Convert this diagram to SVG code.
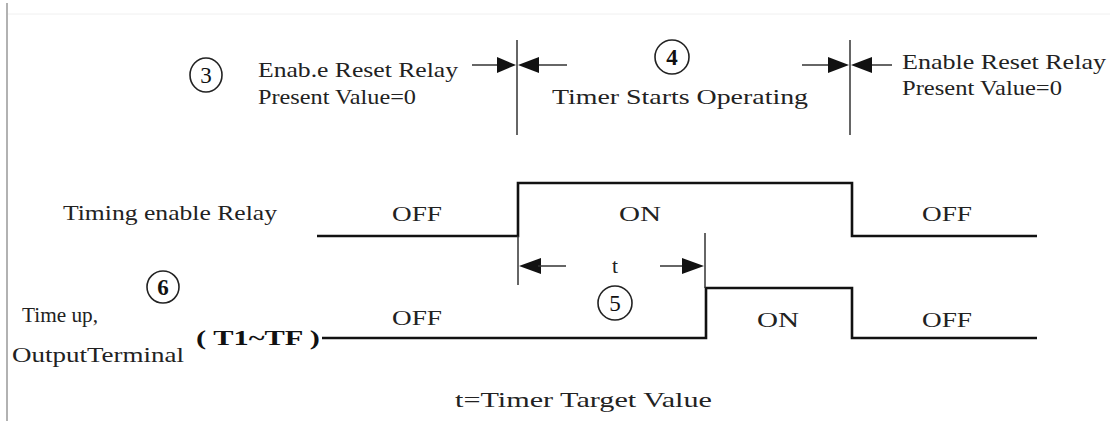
<svg xmlns="http://www.w3.org/2000/svg" width="1110" height="421" viewBox="0 0 1110 421">
<style>
.t{font-family:"Liberation Serif","Times New Roman",serif;font-size:21.5px;fill:#222}
.b{font-family:"Liberation Serif","Times New Roman",serif;font-size:21px;font-weight:bold;fill:#111}
.n{font-family:"Liberation Serif","Times New Roman",serif;font-size:23px;fill:#111}
.c{fill:none;stroke:#222;stroke-width:1.6}
.w{fill:none;stroke:#111;stroke-width:2.6}
.m{fill:none;stroke:#333;stroke-width:1.5}
.ah{fill:#111}
</style>
<rect width="1110" height="421" fill="#fff"/>
<line x1="7" y1="3" x2="7" y2="421" stroke="#999" stroke-width="1.5"/>
<line x1="8" y1="14" x2="1110" y2="14" stroke="#f0f0f0" stroke-width="1"/>

<g id="label3">
<ellipse class="c" cx="206" cy="75" rx="16" ry="17"/>
<text class="n" x="206" y="83" text-anchor="middle">3</text>
<text class="t" x="258" y="77" textLength="200" lengthAdjust="spacingAndGlyphs">Enab.e Reset Relay</text>
<text class="t" x="258" y="104" textLength="158" lengthAdjust="spacingAndGlyphs">Present Value=0</text>
</g>

<g id="label4">
<ellipse class="c" cx="672" cy="57" rx="17" ry="17"/>
<text class="n" x="672" y="65" text-anchor="middle" font-weight="bold">4</text>
<text class="t" x="552" y="104" textLength="256" lengthAdjust="spacingAndGlyphs">Timer Starts Operating</text>
</g>

<g id="labelRight">
<text class="t" x="902" y="69" textLength="204" lengthAdjust="spacingAndGlyphs">Enable Reset Relay</text>
<text class="t" x="902" y="95" textLength="160" lengthAdjust="spacingAndGlyphs">Present Value=0</text>
</g>

<g id="timingRelay">
<text class="t" x="63" y="220" textLength="214" lengthAdjust="spacingAndGlyphs">Timing enable Relay</text>
<text class="t" x="417" y="221" text-anchor="middle" textLength="50" lengthAdjust="spacingAndGlyphs">OFF</text>
<text class="t" x="640" y="221" text-anchor="middle" textLength="42" lengthAdjust="spacingAndGlyphs">ON</text>
<text class="t" x="947" y="221" text-anchor="middle" textLength="50" lengthAdjust="spacingAndGlyphs">OFF</text>
</g>

<g id="outputTerminal">
<ellipse class="c" cx="163" cy="287" rx="16" ry="16"/>
<text class="n" x="163" y="295" text-anchor="middle" font-weight="bold">6</text>
<text class="t" x="22" y="322" textLength="76" lengthAdjust="spacingAndGlyphs">Time up,</text>
<text class="t" x="12" y="362" textLength="172" lengthAdjust="spacingAndGlyphs">OutputTerminal</text>
<text class="b" x="196" y="345" textLength="124" lengthAdjust="spacingAndGlyphs">( T1~TF )</text>
<text class="t" x="417" y="325" text-anchor="middle" textLength="50" lengthAdjust="spacingAndGlyphs">OFF</text>
<text class="t" x="778" y="327" text-anchor="middle" textLength="42" lengthAdjust="spacingAndGlyphs">ON</text>
<text class="t" x="947" y="327" text-anchor="middle" textLength="50" lengthAdjust="spacingAndGlyphs">OFF</text>
</g>

<g id="label5">
<ellipse class="c" cx="615" cy="303" rx="17" ry="17"/>
<text class="n" x="615" y="311" text-anchor="middle">5</text>
<text class="t" x="615" y="273" text-anchor="middle">t</text>
</g>

<g id="caption">
<text class="t" x="455" y="407" textLength="257" lengthAdjust="spacingAndGlyphs">t=Timer Target Value</text>
</g>

<g id="connectors">
<polyline class="w" points="317,236 518,236 518,183 852,183 852,236 1037,236"/>
<polyline class="w" points="322,338 706,338 706,288 852,288 852,338 1037,338"/>
<line class="m" x1="517" y1="40" x2="517" y2="135"/>
<line class="m" x1="850" y1="40" x2="850" y2="135"/>
<line class="m" x1="518" y1="236" x2="518" y2="285"/>
<line class="m" x1="705" y1="233" x2="705" y2="288"/>
<line class="m" x1="472" y1="65" x2="500" y2="65"/>
<polygon class="ah" points="497,57 516,65 497,73"/>
<line class="m" x1="536" y1="65" x2="567" y2="65"/>
<polygon class="ah" points="539,57 518,65 539,73"/>
<line class="m" x1="802" y1="65" x2="830" y2="65"/>
<polygon class="ah" points="828,57 849,65 828,73"/>
<line class="m" x1="869" y1="65" x2="892" y2="65"/>
<polygon class="ah" points="872,57 851,65 872,73"/>
<polygon class="ah" points="541,258 519,266 541,274"/>
<line class="m" x1="538" y1="266" x2="566" y2="266"/>
<line class="m" x1="660" y1="266" x2="684" y2="266"/>
<polygon class="ah" points="682,258 704,266 682,274"/>
</g>
</svg>
